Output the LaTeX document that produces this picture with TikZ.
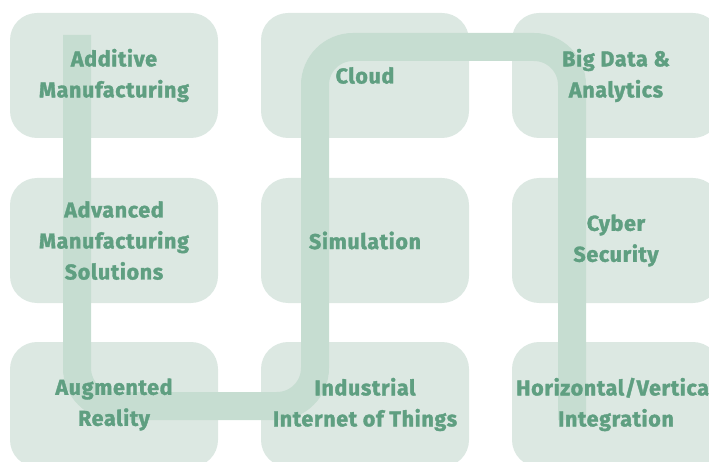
\documentclass[tikz,border=0pt]{standalone}
\usepackage{fontspec}
\setmainfont{Fira Sans}[BoldFont={Fira Sans Bold},
  BoldFeatures={FakeBold=1.6, LetterSpace=3}]
\usetikzlibrary{positioning}
\definecolor{tilefill}{HTML}{DCE8E2}
\definecolor{bandfill}{HTML}{C6DDD1}
\definecolor{tagtext}{HTML}{5F9F81}

\begin{document}
\begin{tikzpicture}[
  x=1pt, y=-1pt,
  tile/.style={fill=tilefill, rounded corners=27pt, minimum width=208pt,
               minimum height=125pt, inner sep=0pt},
  band/.style={draw=bandfill, line width=28pt, rounded corners=38pt},
  tag/.style={text=tagtext, font=\fontsize{21.5}{31}\selectfont\bfseries,
              align=center},
]
\clip (0,0) rectangle (709,462);

% ---- tiles, 3 columns x 3 rows ----
\foreach \c/\cx in {1/114,2/365,3/616}
  \foreach \r/\ry in {1/75.5,2/240.5,3/404.5}
    \node[tile] (t\c\r) at (\cx,\ry) {};

% ---- the snake running through the tiles ----
\coordinate (s0) at (77,35);
\coordinate (s1) at (77,406);
\coordinate (s2) at (315,406);
\coordinate (s3) at (315,47);
\coordinate (s4) at (572,47);
\coordinate (s5) at (572,420);
\draw[band] (s0) -- (s1) -- (s2) -- (s3) -- (s4) -- (s5);

% ---- labels on top ----
\node[tag] (l11) at (t11) {Additive\\Manufacturing};
\node[tag] (l12) at (t12) {Advanced\\Manufacturing\\Solutions};
\node[tag] (l13) at (t13) {Augmented\\Reality};
\node[tag] (l21) at (t21) {Cloud};
\node[tag] (l22) at (t22) {Simulation};
\node[tag] (l23) at (t23) {Industrial\\Internet of Things};
\node[tag] (l31) at (t31) {Big Data \&\\Analytics};
\node[tag] (l32) at (t32) {Cyber\\Security};
\node[tag] (l33) at (t33) {Horizontal/Vertical\\Integration};

\end{tikzpicture}
\end{document}
